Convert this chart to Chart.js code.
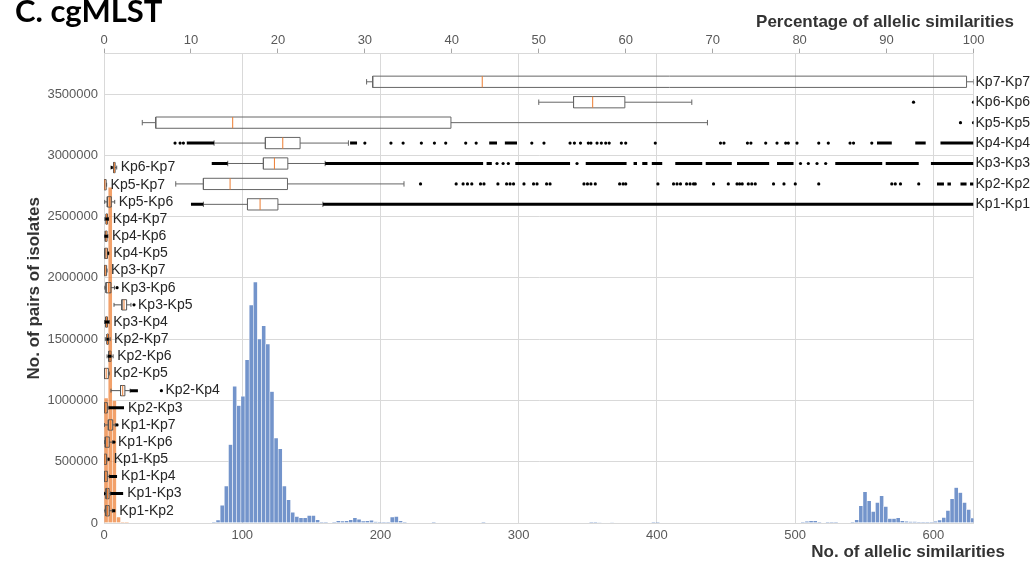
<!DOCTYPE html>
<html>
<head>
<meta charset="utf-8">
<script src="https://cdn.jsdelivr.net/npm/chart.js@4.4.0/dist/chart.umd.min.js"></script>
<style>
html,body{margin:0;padding:0;background:#ffffff;}
#wrap{width:1033px;height:561px;position:relative;}
</style>
</head>
<body>
<div id="wrap"><canvas id="c"></canvas></div>
<script>
// ---------- DATA ----------
const BIN = 3;                 // allelic-similarity bin width
const X_MAX = 629;             // number of cgMLST loci
const Y_MAX = 3830000;

// tick values
const xTickValues = [0,100,200,300,400,500,600];
const topTickValues = [0,10,20,30,40,50,60,70,80,90,100];
const yTickValues = [0,500000,1000000,1500000,2000000,2500000,3000000,3500000];

// histogram of all pairs (blue): bin start, count
const blueBinStart = [78,81,84,87,90,93,96,99,102,105,108,111,114,117,120,123,126,129,132,135,138,141,144,147,150,153,156,159,165,168,171,174,177,180,183,186,189,192,195,198,201,204,207,210,213,216,237,273,351,354,357,366,396,399,504,507,510,513,516,522,525,528,540,543,546,549,552,555,558,561,564,567,570,573,576,579,582,585,588,591,594,597,600,603,606,609,612,615,618,621,624,627];
const blueCount = [3000,24000,146000,303000,640000,1116000,959000,1035000,1333000,1778000,1967000,1502000,1610000,1461000,1073000,694000,607000,303000,190000,87000,54000,43000,43000,62000,62000,27000,8000,3000,3000,19000,16000,19000,27000,43000,30000,16000,19000,22000,10000,5000,5000,5000,49000,54000,19000,5000,2000,2000,8000,8000,4000,4000,3000,3000,5000,14000,19000,19000,8000,6000,8000,6000,2000,27000,141000,255000,182000,95000,168000,222000,135000,37000,37000,43000,19000,14000,11000,11000,8000,8000,8000,8000,14000,24000,46000,103000,198000,290000,249000,168000,111000,41000];

// histogram of between-lineage pairs (orange)
const orangeBinStart = [0,3,6,9,12,15];
const orangeCount = [1020000,2740000,1000000,50000,6000,6000];

// box plots, percentage of allelic similarities (top axis) - within lineages
const topLabels = ['Kp1-Kp1','Kp2-Kp2','Kp3-Kp3','Kp4-Kp4','Kp5-Kp5','Kp6-Kp6','Kp7-Kp7'];
const topLo  = [11.43, 8.25, 14.23, 12.66, 4.4, 50.0, 30.2];
const topQ1  = [16.5, 11.43, 18.33, 18.56, 5.95, 54.0, 30.9];
const topMed = [17.95, 14.5, 19.6, 20.56, 14.8, 56.2, 43.5];
const topQ3  = [20.0, 21.1, 21.14, 22.55, 39.9, 59.9, 99.2];
const topHi  = [25.17, 34.5, 25.43, 28.11, 69.4, 67.6, 100];
// dense runs of outliers [from, to]
const topRuns = [
  [[10.0,11.43],[25.17,100]],
  [[95.8,96.6],[97.0,97.4],[98.5,99.2],[99.6,100]],
  [[12.39,14.23],[25.43,43.6],[44.0,44.6],[47.3,53.6],[55.4,60.1],[60.9,61.3],[61.9,62.5],[63.0,64.2],[65.7,68.8],[69.2,72.2],[72.8,76.5],[77.4,79.3],[84.1,89.5],[89.9,93.7],[95.1,100]],
  [[9.52,12.66],[28.3,29.1],[44.3,45.2],[46.1,47.5],[88.9,90.6],[93.3,94.5],[96.2,100]],
  [], [], []
];
// isolated outliers
const topOutliers = [
  [],
  [36.4,40.5,41.3,41.8,42.3,43.3,43.7,45.3,46.3,46.7,47.1,48.3,49.4,49.8,50.9,51.3,55.2,55.6,56.0,56.5,59.3,59.7,60.0,63.7,65.5,65.9,66.3,67.0,67.4,67.8,68.0,70.1,71.8,72.8,73.1,73.4,74.1,74.5,74.9,77.0,78.2,79.5,82.2,90.6,91.0,91.6,93.7],
  [45.2,45.9,46.5,54.4,80.1,81.0,82.0,83.0],
  [8.17,8.75,9.13,30.0,33.0,34.4,36.5,38.0,39.3,41.6,42.8,49.2,50.6,53.6,54.1,54.8,55.7,56.0,56.7,57.2,57.7,58.1,59.5,60.0,63.4,70.9,71.3,74.0,74.4,76.1,77.4,78.4,78.7,79.7,82.2,83.3,85.8,86.2,88.3],
  [98.5,100],
  [93.1,100],
  []
];

// box plots between lineages
const pairLabels = ['Kp1-Kp2','Kp1-Kp3','Kp1-Kp4','Kp1-Kp5','Kp1-Kp6','Kp1-Kp7','Kp2-Kp3','Kp2-Kp4','Kp2-Kp5','Kp2-Kp6','Kp2-Kp7','Kp3-Kp4','Kp3-Kp5','Kp3-Kp6','Kp3-Kp7','Kp4-Kp5','Kp4-Kp6','Kp4-Kp7','Kp5-Kp6','Kp5-Kp7','Kp6-Kp7'];
const pairLo  = [0.0,0.1,0.0,0.0,0.05,0.05,0.0,0.8,0.0,0.35,0.15,0.05,1.15,0.1,0.0,0.05,0.0,0.1,0.08,0.0,0.8];
const pairQ1  = [0.2,0.23,0.05,0.03,0.15,0.5,0.05,1.9,0.05,0.55,0.35,0.2,2.05,0.23,0.03,0.1,0.15,0.25,0.38,0.02,1.1];
const pairMed = [0.4,0.4,0.2,0.1,0.35,0.75,0.15,2.15,0.25,0.7,0.4,0.3,2.3,0.5,0.15,0.25,0.25,0.3,0.61,0.1,1.19];
const pairQ3  = [0.6,0.58,0.38,0.3,0.6,1.0,0.38,2.4,0.5,0.8,0.5,0.4,2.6,0.8,0.3,0.4,0.35,0.4,0.84,0.25,1.28];
const pairHi  = [0.95,0.75,0.6,0.45,1.0,1.3,0.55,3.0,0.6,1.05,0.7,0.6,3.1,1.2,0.35,0.5,0.45,0.5,1.23,0.3,1.46];
const pairRuns = [[[0.95,1.3]],[[0.75,2.2]],[[0.6,1.5]],[[0.45,0.65]],[],[],[[0.55,2.3]],[[3.0,3.9]],[],[[0.45,0.85]],[[0.3,0.55]],[[0.1,0.6]],[],[],[],[[0.4,0.6]],[[0.05,0.45]],[[0.15,0.55]],[],[],[[0.8,1.0]]];
const pairOutliers = [[],[0.0],[],[],[1.15],[1.5],[],[6.6],[],[],[],[],[3.45],[1.5],[],[],[],[],[],[],[]];

// row placement (data units of the y axis)
const TOP_ROW_START = 2600000, TOP_ROW_STEP = 1000000 / 6;
const PAIR_ROW_START = 100000, PAIR_ROW_STEP = 140000;
const TOP_BOX_HALF = 46000, TOP_CAP_HALF = 22000;
const PAIR_BOX_HALF = 42000, PAIR_CAP_HALF = 16000;

const topRowY = topLabels.map((_, i) => TOP_ROW_START + i * TOP_ROW_STEP);
const pairRowY = pairLabels.map((_, i) => PAIR_ROW_START + i * PAIR_ROW_STEP);

// ---------- BUILD ----------
function gap() { return {x: null, y: null}; }
function buildBoxes(rowsY, lo, q1, med, q3, hi, runs, outl, hb, hc) {
  const outline = [], medians = [], runPts = [], dots = [];
  rowsY.forEach((y, i) => {
    outline.push({x:q1[i],y:y-hb},{x:q3[i],y:y-hb},{x:q3[i],y:y+hb},{x:q1[i],y:y+hb},{x:q1[i],y:y-hb},gap());
    outline.push({x:lo[i],y:y},{x:q1[i],y:y},gap(),{x:q3[i],y:y},{x:hi[i],y:y},gap());
    outline.push({x:lo[i],y:y-hc},{x:lo[i],y:y+hc},gap(),{x:hi[i],y:y-hc},{x:hi[i],y:y+hc},gap());
    medians.push({x:med[i],y:y-hb},{x:med[i],y:y+hb},gap());
    runs[i].forEach(r => runPts.push({x:r[0],y:y},{x:r[1],y:y},gap()));
    outl[i].forEach(v => dots.push({x:v,y:y}));
  });
  return {outline, medians, runPts, dots};
}
const topB = buildBoxes(topRowY, topLo, topQ1, topMed, topQ3, topHi, topRuns, topOutliers, TOP_BOX_HALF, TOP_CAP_HALF);
const pairB = buildBoxes(pairRowY, pairLo, pairQ1, pairMed, pairQ3, pairHi, pairRuns, pairOutliers, PAIR_BOX_HALF, PAIR_CAP_HALF);

const FONT = '"Liberation Sans", Arial, sans-serif';
Chart.defaults.font.family = FONT;

function lineSet(data, color, width, order) {
  return {type:'line', data, xAxisID:'xTop', yAxisID:'y', borderColor:color, borderWidth:width,
          pointRadius:0, fill:false, tension:0, spanGaps:false, borderCapStyle:'butt', order};
}
function dotSet(data, order) {
  return {type:'scatter', data, xAxisID:'xTop', yAxisID:'y', backgroundColor:'#000', borderColor:'#000',
          borderWidth:0, pointRadius:1.6, pointStyle:'circle', showLine:false, order};
}
const setTicks = values => scale => { scale.ticks = values.map(v => ({value: v})); };

const datasets = [
  {type:'bar', label:'All pairs', data: blueBinStart.map((b,i)=>({x:b+BIN/2, y:blueCount[i]})),
   xAxisID:'x', yAxisID:'y', backgroundColor:'#7394cb', borderColor:'rgba(255,255,255,0.55)', borderWidth:0.6,
   barPercentage:1, categoryPercentage:1, grouped:false, order:20},
  {type:'bar', label:'Between lineages', data: orangeBinStart.map((b,i)=>({x:b+BIN/2, y:orangeCount[i]})),
   xAxisID:'x', yAxisID:'y', backgroundColor:'rgba(237,125,49,0.72)', borderColor:'rgba(255,255,255,0.4)', borderWidth:0.6,
   barPercentage:1, categoryPercentage:1, grouped:false, order:19},
  lineSet(topB.outline, '#666666', 1, 5),
  lineSet(pairB.outline, '#555555', 1, 5),
  lineSet(topB.medians, '#ed7d31', 1, 4),
  lineSet(pairB.medians, '#ed7d31', 1, 4),
  lineSet(topB.runPts, '#000000', 3, 3),
  lineSet(pairB.runPts, '#000000', 3, 3),
  dotSet(topB.dots, 2),
  dotSet(pairB.dots, 2)
];

const textPlugin = {
  id: 'extraText',
  afterDatasetsDraw(chart) {
    const {ctx, scales} = chart;
    ctx.save();
    ctx.font = '14px ' + FONT;
    ctx.fillStyle = '#262626';
    ctx.textBaseline = 'middle';
    ctx.textAlign = 'left';
    pairLabels.forEach((lab, i) => {
      const ext = Math.max(pairHi[i], ...pairRuns[i].map(r => r[1]), ...pairOutliers[i]);
      const px = scales.xTop.getPixelForValue(ext) + 4;
      const py = scales.y.getPixelForValue(pairRowY[i]);
      ctx.fillText(lab, px, py);
    });
    ctx.restore();
  },
  afterDraw(chart) {
    const {ctx, width, height} = chart;
    ctx.save();
    ctx.fillStyle = '#000';
    ctx.textAlign = 'left';
    ctx.textBaseline = 'alphabetic';
    ctx.font = 'bold 31px Lato, "Open Sans", sans-serif';
    ctx.fillText('C. cgMLST', 15, 22);
    ctx.fillStyle = '#333';
    ctx.font = 'bold 17px ' + FONT;
    ctx.textAlign = 'right';
    ctx.fillText('Percentage of allelic similarities', width - 19, 27);
    ctx.fillText('No. of allelic similarities', width - 28, height - 4);
    ctx.restore();
  }
};

new Chart(document.getElementById('c'), {
  data: {datasets},
  options: {
    responsive: true,
    maintainAspectRatio: false,
    animation: false,
    events: [],
    layout: {padding: {left: 13, right: 1, top: 33, bottom: 12.4}},
    plugins: {legend: {display: false}, tooltip: {enabled: false}, title: {display: false}},
    scales: {
      x: {
        type: 'linear', position: 'bottom', min: 0, max: X_MAX, offset: false,
        afterBuildTicks: setTicks(xTickValues),
        ticks: {color: '#595959', font: {size: 13}, padding: 5, callback: v => String(v)},
        grid: {color: '#d9d9d9', drawTicks: false, offset: false},
        border: {color: '#d9d9d9'}
      },
      xTop: {
        type: 'linear', position: 'top', min: 0, max: 100, offset: false,
        afterBuildTicks: setTicks(topTickValues),
        ticks: {color: '#595959', font: {size: 13}, padding: 0, callback: v => String(v)},
        grid: {drawOnChartArea: false, drawTicks: true, tickLength: 5, color: '#a6a6a6', offset: false},
        border: {color: '#d9d9d9'}
      },
      y: {
        type: 'linear', position: 'left', min: 0, max: Y_MAX,
        afterBuildTicks: setTicks(yTickValues),
        ticks: {color: '#595959', font: {size: 13}, padding: 6, callback: v => String(v)},
        grid: {color: '#d9d9d9', drawTicks: false},
        border: {color: '#d9d9d9'},
        title: {display: true, text: 'No. of pairs of isolates', color: '#333',
                font: {size: 17, weight: 'bold'}, padding: {top: 11, bottom: -3}}
      },
      yRight: {
        type: 'linear', position: 'right', min: 0, max: Y_MAX,
        afterBuildTicks: setTicks(topRowY),
        ticks: {autoSkip: false, color: '#262626', font: {size: 14}, padding: 2,
                callback: (v, i) => topLabels[i]},
        grid: {display: false, drawTicks: false, tickLength: 0},
        border: {display: true, color: '#d9d9d9'}
      }
    }
  },
  plugins: [textPlugin]
});
</script>
</body>
</html>
